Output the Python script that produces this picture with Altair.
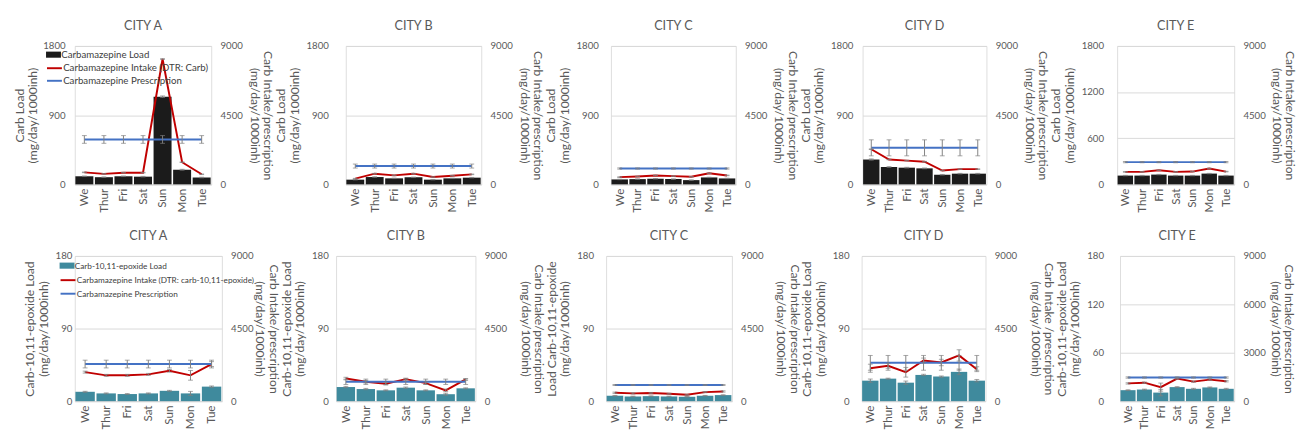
import altair as alt
import pandas as pd

days = ["We", "Thur", "Fri", "Sat", "Sun", "Mon", "Tue"]
cities = ["CITY A", "CITY B", "CITY C", "CITY D", "CITY E"]

# ---- Top row: carbamazepine (left axis 0-1800, right axis 0-9000)
carb_load = {
    "CITY A": [105, 93, 105, 100, 1140, 190, 89],
    "CITY B": [61, 95, 78, 91, 61, 78, 87],
    "CITY C": [64, 68, 73, 68, 55, 90, 77],
    "CITY D": [323, 226, 217, 208, 125, 139, 139],
    "CITY E": [114, 114, 127, 114, 114, 140, 114],
}
carb_load_err = {
    "CITY A": [4, 4, 4, 4, 10, 6, 4],
    "CITY B": [3, 3, 3, 3, 3, 3, 3],
    "CITY C": [3, 3, 3, 3, 3, 3, 3],
    "CITY D": [8, 5, 5, 5, 4, 4, 4],
    "CITY E": [3, 3, 3, 3, 3, 3, 3],
}
carb_intake = {
    "CITY A": [780, 680, 760, 760, 8150, 1440, 655],
    "CITY B": [370, 695, 585, 695, 475, 565, 650],
    "CITY C": [470, 515, 580, 535, 490, 725, 580],
    "CITY D": [2285, 1615, 1545, 1475, 900, 990, 990],
    "CITY E": [810, 810, 920, 810, 830, 1030, 830],
}
carb_presc = {"CITY A": 2920, "CITY B": 1190, "CITY C": 1030, "CITY D": 2375, "CITY E": 1445}
carb_presc_err = {"CITY A": 250, "CITY B": 130, "CITY C": 40, "CITY D": 520, "CITY E": 40}

# ---- Bottom row: carbamazepine-10,11-epoxide (left axis 0-180, right axis 0-9000)
epox_load = {
    "CITY A": [11.6, 9.6, 8.8, 9.6, 12.8, 9.6, 18.0],
    "CITY B": [17.5, 15.0, 13.4, 16.7, 13.4, 8.6, 15.9],
    "CITY C": [6.7, 5.8, 6.2, 5.8, 5.4, 6.7, 7.5],
    "CITY D": [25.4, 27.9, 22.9, 32.5, 30.4, 36.3, 25.4],
    "CITY E": [13.6, 14.4, 10.6, 17.4, 15.3, 17.0, 15.3],
}
epox_load_err = {
    "CITY A": [0.6, 0.6, 0.6, 0.6, 0.6, 2.5, 0.8],
    "CITY B": [0.8, 0.8, 0.6, 0.8, 0.6, 1.2, 0.6],
    "CITY C": [0.4, 0.4, 0.4, 0.4, 0.4, 0.4, 0.4],
    "CITY D": [2.0, 0.6, 2.0, 0.8, 0.8, 3.5, 1.5],
    "CITY E": [0.5, 0.5, 4.0, 0.6, 0.6, 0.6, 0.6],
}
epox_intake = {
    "CITY A": [1800, 1600, 1600, 1660, 1880, 1600, 2300],
    "CITY B": [1400, 1200, 1080, 1365, 1120, 670, 1345],
    "CITY C": [520, 480, 500, 460, 395, 560, 600],
    "CITY D": [2040, 2190, 1790, 2520, 2395, 2835, 1980],
    "CITY E": [1100, 1145, 870, 1400, 1210, 1335, 1230],
}
epox_intake_err = {
    "CITY A": [60, 60, 60, 60, 80, 300, 150],
    "CITY B": [80, 80, 80, 60, 80, 80, 60],
    "CITY C": [40, 40, 40, 30, 30, 40, 40],
    "CITY D": [250, 150, 300, 150, 200, 350, 150],
    "CITY E": [40, 40, 250, 40, 40, 40, 40],
}
epox_presc = {"CITY A": 2300, "CITY B": 1200, "CITY C": 1000, "CITY D": 2375, "CITY E": 1465}
epox_presc_err = {"CITY A": 240, "CITY B": 165, "CITY C": 30, "CITY D": 458, "CITY E": 40}

top_left_titles = {c: ["Carb Load", "(mg/day/1000inh)"] for c in cities}
bottom_left_titles = {
    "CITY A": ["Carb-10,11-epoxide Load", "(mg/day/1000inh)"],
    "CITY B": ["Carb-10,11-epoxide Load", "(mg/day/1000inh)"],
    "CITY C": ["Load Carb-10,11-epoxide", "(mg/day/1000inh)"],
    "CITY D": ["Carb-10,11-epoxide Load", "(mg/day/1000inh)"],
    "CITY E": ["Carb-10,11-epoxide  Load", "(mg/day/1000inh)"],
}
right_titles = {c: ["Carb Intake/prescription", "(mg/day/1000inh)"] for c in cities}
right_titles_bottom = dict(right_titles)
right_titles_bottom["CITY D"] = ["Carb Intake /prescription", "(mg/day/1000inh)"]

top_widths = {"CITY A": 141, "CITY B": 140, "CITY C": 129, "CITY D": 128, "CITY E": 121}
bottom_widths = {"CITY A": 152, "CITY B": 144, "CITY C": 130, "CITY D": 128, "CITY E": 118}
top_label_pad = {"CITY A": 10, "CITY B": 18, "CITY C": 13, "CITY D": 10, "CITY E": 14}
top_ltitle_pad = {"CITY A": 3, "CITY B": 5, "CITY C": 5, "CITY D": 5, "CITY E": 5}
top_rtitle_pad = {"CITY A": 5, "CITY B": 5, "CITY C": 5, "CITY D": 5, "CITY E": 4}
bottom_label_pad = {"CITY A": 3, "CITY B": 8, "CITY C": 13, "CITY D": 13, "CITY E": 17}
bottom_ltitle_pad = {"CITY A": 5, "CITY B": 5, "CITY C": 5, "CITY D": 5, "CITY E": 5}
bottom_rtitle_pad = {"CITY A": 0, "CITY B": 12, "CITY C": 11, "CITY D": 12, "CITY E": 3}

RED = "#C00000"
BLUE = "#4472C4"
BLACK = "#1b1b1b"
TEAL = "#3F8A9D"
ERR = "#7f7f7f"
TXT = "#595959"
GRID = "#d9d9d9"
FONT = "Lato"
PRESC = "Carbamazepine Prescription"


def make_panel(city, load, load_err, intake, intake_err, presc, presc_err,
               left_max, left_ticks, right_ticks, left_title, right_title,
               bar_color, bar_label, intake_label, w, h, label_pad, ltitle_pad,
               rtitle_pad, fill_legend=None, stroke_legend=None):
    df = pd.DataFrame({
        "day": days,
        "load": load,
        "lo": [a - e for a, e in zip(load, load_err)],
        "hi": [a + e for a, e in zip(load, load_err)],
        "bar_series": [bar_label] * len(days),
    })
    rows = []
    for i, d in enumerate(days):
        rows.append({"day": d, "idx": i, "series": intake_label, "value": intake[i],
                     "lo": intake[i] - intake_err[i], "hi": intake[i] + intake_err[i]})
    for i, d in enumerate(days):
        rows.append({"day": d, "idx": i, "series": PRESC, "value": presc,
                     "lo": presc - presc_err, "hi": presc + presc_err})
    dl = pd.DataFrame(rows)

    xenc = alt.X("day:N", sort=days,
                 scale=alt.Scale(paddingInner=0.08, paddingOuter=0.03),
                 axis=alt.Axis(title=None, labelAngle=-90, labelFontSize=12,
                               labelColor=TXT, labelFont=FONT, ticks=False,
                               labelPadding=4, domainColor=GRID))
    lscale = alt.Scale(domain=[0, left_max], nice=False)
    laxis = alt.Axis(values=left_ticks, format="d", title=left_title, grid=True,
                     gridColor=GRID, domain=False, ticks=False, tickSize=0,
                     labelPadding=label_pad, labelFontSize=10, labelColor=TXT,
                     labelFont=FONT, titleFontSize=12.5, titleFontWeight="normal",
                     titleColor=TXT, titleFont=FONT, titlePadding=ltitle_pad,
                     titleLineHeight=14)
    if fill_legend is not None:
        fill = alt.Fill("bar_series:N",
                        scale=alt.Scale(domain=[bar_label], range=[bar_color]),
                        legend=fill_legend)
    else:
        fill = alt.value(bar_color)
    bars = alt.Chart(df).mark_bar().encode(
        x=xenc, y=alt.Y("load:Q", scale=lscale, axis=laxis), fill=fill)
    brule = alt.Chart(df).mark_rule(color=ERR, strokeWidth=1).encode(
        x=xenc, y=alt.Y("lo:Q", scale=lscale, axis=laxis), y2="hi:Q")
    btlo = alt.Chart(df).mark_tick(color=ERR, size=5, thickness=1).encode(
        x=xenc, y=alt.Y("lo:Q", scale=lscale, axis=laxis))
    bthi = alt.Chart(df).mark_tick(color=ERR, size=5, thickness=1).encode(
        x=xenc, y=alt.Y("hi:Q", scale=lscale, axis=laxis))
    left = alt.layer(bars, brule, btlo, bthi)

    rscale = alt.Scale(domain=[0, 9000], nice=False)
    raxis = alt.Axis(values=right_ticks, format="d", title=right_title, orient="right",
                     grid=False, domain=False, ticks=False, tickSize=0, labelPadding=9,
                     labelFontSize=10, labelColor=TXT, labelFont=FONT,
                     titleFontSize=12.5, titleFontWeight="normal", titleColor=TXT,
                     titleFont=FONT, titlePadding=rtitle_pad, titleLineHeight=14)
    stroke = alt.Stroke("series:N",
                        scale=alt.Scale(domain=[intake_label, PRESC], range=[RED, BLUE]),
                        legend=stroke_legend)
    lines = alt.Chart(dl).mark_line(strokeWidth=2).encode(
        x=xenc, y=alt.Y("value:Q", scale=rscale, axis=raxis), stroke=stroke,
        order=alt.Order("idx:Q"))
    lrule = alt.Chart(dl).mark_rule(color=ERR, strokeWidth=1).encode(
        x=xenc, y=alt.Y("lo:Q", scale=rscale, axis=raxis), y2="hi:Q")
    ltlo = alt.Chart(dl).mark_tick(color=ERR, size=5, thickness=1).encode(
        x=xenc, y=alt.Y("lo:Q", scale=rscale, axis=raxis))
    lthi = alt.Chart(dl).mark_tick(color=ERR, size=5, thickness=1).encode(
        x=xenc, y=alt.Y("hi:Q", scale=rscale, axis=raxis))
    right = alt.layer(lines, lrule, ltlo, lthi)

    return alt.layer(left, right).resolve_scale(y="independent").properties(
        width=w, height=h,
        title=alt.TitleParams(city, fontSize=13, font=FONT, color=TXT,
                              fontWeight="normal", anchor="middle", frame="group",
                              offset=8))


def legend(x, y, kind, size, row_pad):
    if kind == "fill":
        return alt.Legend(orient="none", legendX=x, legendY=y, title=None,
                          symbolType="M-1.1,-0.45H1.1V0.45H-1.1Z", symbolSize=196,
                          symbolStrokeWidth=0, labelFontSize=size, labelColor="#404040",
                          labelFont=FONT, labelOffset=1, labelLimit=400,
                          rowPadding=row_pad, padding=0)
    return alt.Legend(orient="none", legendX=x, legendY=y, title=None,
                      symbolType="M-1.1,0H1.1", symbolSize=196, symbolStrokeWidth=2,
                      labelFontSize=size, labelColor="#404040", labelFont=FONT,
                      labelOffset=1, labelLimit=400, rowPadding=row_pad, padding=0)


top_panels = []
bottom_panels = []
for c in cities:
    is_a = c == "CITY A"
    top_panels.append(make_panel(
        c, carb_load[c], carb_load_err[c], carb_intake[c], [20] * 7,
        carb_presc[c], carb_presc_err[c],
        1800, [0, 600, 1200, 1800] if c == "CITY E" else [0, 900, 1800],
        [0, 4500, 9000], top_left_titles[c], right_titles[c],
        BLACK, "Carbamazepine Load", "Carbamazepine Intake (DTR: Carb)",
        top_widths[c], 143, top_label_pad[c], top_ltitle_pad[c], top_rtitle_pad[c],
        fill_legend=legend(-29, 2, "fill", 10, 0) if is_a else None,
        stroke_legend=legend(-29, 15, "stroke", 10, -2) if is_a else None))
    bottom_panels.append(make_panel(
        c, epox_load[c], epox_load_err[c], epox_intake[c], epox_intake_err[c],
        epox_presc[c], epox_presc_err[c],
        180, [0, 60, 120, 180] if c == "CITY E" else [0, 90, 180],
        [0, 3000, 6000, 9000] if c == "CITY E" else [0, 4500, 9000],
        bottom_left_titles[c], right_titles_bottom[c],
        TEAL, "Carb-10,11-epoxide Load",
        "Carbamazepine Intake (DTR: carb-10,11-epoxide)",
        bottom_widths[c], 150, bottom_label_pad[c], bottom_ltitle_pad[c],
        bottom_rtitle_pad[c],
        fill_legend=legend(-15, 3, "fill", 8.5, 0) if is_a else None,
        stroke_legend=legend(-15, 17, "stroke", 8.5, 1) if is_a else None))

top = alt.hconcat(*top_panels, spacing=0).resolve_scale(
    fill="independent", stroke="independent").resolve_legend(
    fill="independent", stroke="independent")
bottom = alt.hconcat(*bottom_panels, spacing=0).resolve_scale(
    fill="independent", stroke="independent").resolve_legend(
    fill="independent", stroke="independent")

chart = alt.vconcat(top, bottom, spacing=17).resolve_scale(
    fill="independent", stroke="independent").resolve_legend(
    fill="independent", stroke="independent").configure_view(
    strokeWidth=0).configure_title(fontWeight="normal").configure(
    background="white", padding=5)

chart.save("out.html", embed_options={"renderer": "svg", "actions": False})
